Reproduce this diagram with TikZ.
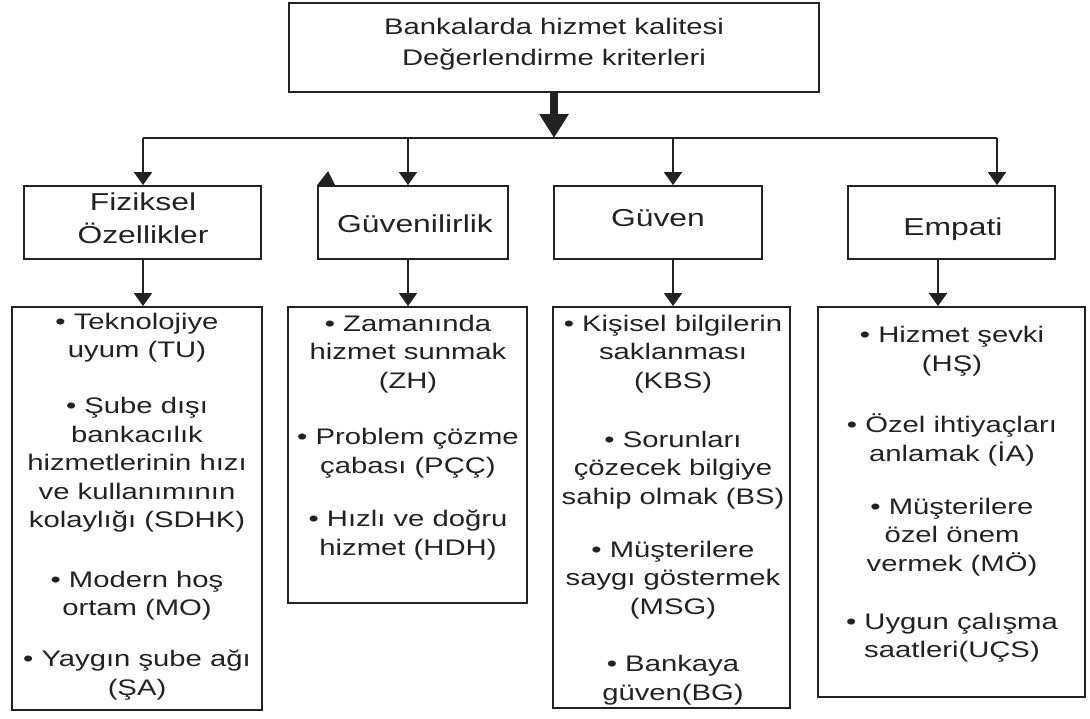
\documentclass[tikz,border=0pt]{standalone}
\usepackage{fontspec}
\setmainfont[FakeStretch=1.3]{Liberation Sans}
\usetikzlibrary{arrows.meta}
\definecolor{ink}{HTML}{222222}
\begin{document}
\begin{tikzpicture}[x=1pt,y=-1pt,
  frame/.style={draw=ink,line width=1.8pt,inner sep=0pt},
  toptxt/.style={align=center,text=ink,inner sep=0pt,font=\fontsize{22.5}{31}\selectfont},
  cattxt/.style={align=center,text=ink,inner sep=0pt,font=\fontsize{24.5}{33}\selectfont},
  item/.style={align=center,text=ink,inner sep=0pt,font=\fontsize{22.5}{28.5}\selectfont},
  conn/.style={draw=ink,line width=1.8pt},
  thinarrow/.style={draw=ink,line width=1.8pt,-{Triangle[width=18pt,length=13pt]}},
  bigarrow/.style={draw=ink,line width=8pt,-{Triangle[width=28pt,length=24pt]}}]
\useasboundingbox (0,0) rectangle (1090,718);
% top box
\node[frame,minimum width=530pt,minimum height=89pt] (top) at (554,47.5) {};
\node[toptxt] (toptext) at (554,44.5) {Bankalarda hizmet kalitesi\\Değerlendirme kriterleri};
% category boxes
\node[frame,minimum width=237pt,minimum height=73pt] (c1) at (142.5,222.5) {};
\node[frame,minimum width=190pt,minimum height=73pt] (c2) at (413,222.5) {};
\node[frame,minimum width=208pt,minimum height=73pt] (c3) at (658,222.5) {};
\node[frame,minimum width=207pt,minimum height=73pt] (c4) at (951.5,222.5) {};
\node[cattxt] (t1) at (143,218) {Fiziksel\\Özellikler};
\node[cattxt] (t2) at (415,224) {Güvenilirlik};
\node[cattxt] (t3) at (658,218) {Güven};
\node[cattxt] (t4) at (953,229) {Empati};
% lower boxes
\node[frame,minimum width=250pt,minimum height=403pt] (l1) at (137,508.5) {};
\node[frame,minimum width=239pt,minimum height=296pt] (l2) at (407.5,455) {};
\node[frame,minimum width=237pt,minimum height=401pt] (l3) at (671.5,507.5) {};
\node[frame,minimum width=267pt,minimum height=390pt] (l4) at (951.5,502) {};
% items
\node[item] (i11) at (137,337.5) {• Teknolojiye\\uyum (TU)};
\node[item] (i12) at (137,465) {• Şube dışı\\bankacılık\\hizmetlerinin hızı\\ve kullanımının\\kolaylığı (SDHK)};
\node[item] (i13) at (137,595.5) {• Modern hoş\\ortam (MO)};
\node[item] (i14) at (137,675) {• Yaygın şube ağı\\(ŞA)};
\node[item] (i21) at (408,354) {• Zamanında\\hizmet sunmak\\(ZH)};
\node[item] (i22) at (408,453) {• Problem çözme\\çabası (PÇÇ)};
\node[item] (i23) at (408,535) {• Hızlı ve doğru\\hizmet (HDH)};
\node[item] (i31) at (673,354) {• Kişisel bilgilerin\\saklanması\\(KBS)};
\node[item] (i32) at (673,470) {• Sorunları\\çözecek bilgiye\\sahip olmak (BS)};
\node[item] (i33) at (673,580) {• Müşterilere\\saygı göstermek\\(MSG)};
\node[item] (i34) at (673,680) {• Bankaya\\güven(BG)};
\node[item] (i41) at (952,351) {• Hizmet şevki\\(HŞ)};
\node[item] (i42) at (952,440) {• Özel ihtiyaçları\\anlamak (İA)};
\node[item] (i43) at (952,537) {• Müşterilere\\özel önem\\vermek (MÖ)};
\node[item] (i44) at (952,637.5) {• Uygun çalışma\\saatleri(UÇS)};
% connectors
\coordinate (j) at (554,138);
\coordinate (b1) at (143,138);
\coordinate (b2) at (408,138);
\coordinate (b3) at (673,138);
\coordinate (b4) at (997,138);
\coordinate (d4) at (938,259);
\draw[bigarrow] (top.south) -- (j);
\draw[conn] (b1) -- (b4);
\draw[thinarrow] (b1) -- (b1 |- c1.north);
\draw[thinarrow] (b2) -- (b2 |- c2.north);
\draw[thinarrow] (b3) -- (b3 |- c3.north);
\draw[thinarrow] (b4) -- (b4 |- c4.north);
\draw[thinarrow] (b1 |- c1.south) -- (b1 |- l1.north);
\draw[thinarrow] (b2 |- c2.south) -- (b2 |- l2.north);
\draw[thinarrow] (b3 |- c3.south) -- (b3 |- l3.north);
\draw[thinarrow] (d4 |- c4.south) -- (d4 |- l4.north);
% small mark at the corner of Güvenilirlik
\fill[ink] (c2.north west) -- ++(11,-14) -- ++(7,14) -- cycle;
\end{tikzpicture}
\end{document}
